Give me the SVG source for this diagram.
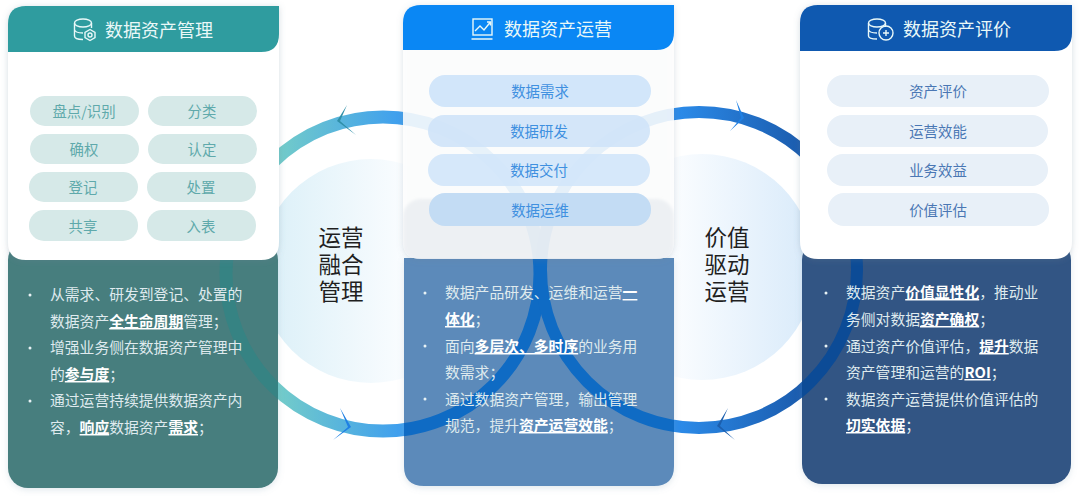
<svg xmlns="http://www.w3.org/2000/svg" width="1080" height="496" viewBox="0 0 1080 496">
<style>
text{font-family:"Noto Sans CJK SC","Liberation Sans",sans-serif}
.h{font-size:18px;fill:#e9f8f8;text-anchor:middle;dominant-baseline:central}
.p{font-size:14.4px;text-anchor:middle;dominant-baseline:central}
.t1{fill:#5fa9ab}.t2{fill:#3f90e0}.t3{fill:#4a77b4}
.b{font-size:14.8px;fill:#dfeaee}
.b tspan.s{font-weight:700;fill:#fff;text-decoration:underline}
text.big{font-family:"Liberation Sans","Noto Sans CJK SC",sans-serif;font-size:22.5px;fill:#1f1f1f;text-anchor:middle}
.ic{fill:none;stroke:#e9f8f8;stroke-width:1.4}
.dot{fill:#e8f2f5}
</style>
<defs>
<linearGradient id="gd1" gradientUnits="userSpaceOnUse" x1="270" y1="0" x2="410" y2="0"><stop offset="0" stop-color="#dcf0f8"/><stop offset="1" stop-color="#fbfdff"/></linearGradient>
<linearGradient id="gd2" gradientUnits="userSpaceOnUse" x1="670" y1="0" x2="815" y2="0"><stop offset="0" stop-color="#fbfdff"/><stop offset="1" stop-color="#d8eafa"/></linearGradient>
<linearGradient id="gr1" gradientUnits="userSpaceOnUse" x1="280" y1="0" x2="400" y2="0"><stop offset="0" stop-color="#72cbca"/><stop offset="1" stop-color="#3f9fee"/></linearGradient>
<linearGradient id="gr2" gradientUnits="userSpaceOnUse" x1="680" y1="0" x2="800" y2="0"><stop offset="0" stop-color="#2b8ae8"/><stop offset="1" stop-color="#1b5cae"/></linearGradient>
<filter id="sh" x="-10%" y="-10%" width="120%" height="120%"><feDropShadow dx="0" dy="1" stdDeviation="3" flood-color="#6a8090" flood-opacity="0.28"/></filter>
<filter id="sh2" x="-10%" y="-10%" width="120%" height="120%"><feDropShadow dx="0" dy="2" stdDeviation="3" flood-color="#7a9ab0" flood-opacity="0.22"/></filter>
<filter id="soft" x="-5%" y="-20%" width="110%" height="140%"><feGaussianBlur stdDeviation="1.500"/></filter>
<clipPath id="c1"><rect x="8" y="240" width="270" height="248" rx="20"/></clipPath>
<clipPath id="c2"><path d="M404 258H674V466Q674 486 654 486H424Q404 486 404 466Z"/></clipPath>
<clipPath id="c3"><rect x="802" y="240" width="269" height="244" rx="20"/></clipPath>
<clipPath id="c4"><path d="M403 23Q403 5 421 5H674V241Q674 259 656 259H421Q403 259 403 241Z"/></clipPath>
</defs>
<rect width="1080" height="496" fill="#fff"/>
<g id="discs">
<circle cx="371" cy="271" r="112" fill="url(#gd1)"/>
<circle cx="702" cy="267" r="113" fill="url(#gd2)"/>
</g>
<g id="connectors">
<circle cx="383" cy="274" r="157" fill="none" stroke="url(#gr1)" stroke-width="13"/>
<circle cx="699" cy="270" r="158" fill="none" stroke="url(#gr2)" stroke-width="12"/>
</g>
<g id="panel-left" filter="url(#sh2)"><rect x="8" y="240" width="270" height="248" rx="20" fill="#477e7e"/></g>
<g id="panel-center" filter="url(#sh2)"><path d="M404 258H674V466Q674 486 654 486H424Q404 486 404 466Z" fill="#5b8aba"/></g>
<g id="panel-right" filter="url(#sh2)"><rect x="802" y="240" width="269" height="244" rx="20" fill="#315584"/></g>
<g id="connector-overlays">
<g clip-path="url(#c1)"><circle cx="383" cy="274" r="157" fill="none" stroke="#368383" stroke-width="13"/></g>
<g clip-path="url(#c2)"><circle cx="383" cy="274" r="157" fill="none" stroke="#0f6bc4" stroke-width="13"/><circle cx="699" cy="270" r="158" fill="none" stroke="#0f6bc4" stroke-width="12"/></g>
<g clip-path="url(#c3)"><circle cx="699" cy="270" r="158" fill="none" stroke="#0c4b96" stroke-width="12"/></g>
</g>
<g id="arrowheads">
<polygon points="347,105 337,121 356,135 340,121" fill="#2f8fa8"/>
<polygon points="340,408 351,427 333,440 348,427" fill="#1f80e4"/>
<polygon points="736,100 744,118 730,131 741,118" fill="#1f80e4"/>
<polygon points="728,408 717,426 735,440 720,426" fill="#1c5fae"/>
</g>
<g id="label-left"><text class="big" x="341"><tspan x="341" y="246">运营</tspan><tspan x="341" dy="27">融合</tspan><tspan x="341" dy="27">管理</tspan></text></g>
<g id="label-right"><text class="big" x="727"><tspan x="727" y="246">价值</tspan><tspan x="727" dy="27">驱动</tspan><tspan x="727" dy="27">运营</tspan></text></g>

<g id="card-left">
<path d="M8 24Q8 6 26 6H279V242Q279 260 261 260H26Q8 260 8 242Z" fill="#fff" filter="url(#sh)"/>
<path d="M8 52V24Q8 6 26 6H279V34Q279 52 261 52Z" fill="#2f9c9f"/>
<g class="ic"><ellipse cx="83" cy="23" rx="8.5" ry="4"/><path d="M74.500 23V36Q74.500 39.500 83 39.500M74.500 29.500Q75 33 83 33M91.500 23V28"/><circle cx="90" cy="35" r="2"/><path d="M90 29.500L95 32.300V37.700L90 40.500L85 37.700V32.300Z"/></g>
<text class="h" x="159" y="28.500">数据资产管理</text>
<rect x="30" y="96" width="109" height="30" rx="15" fill="#d6e9e8"/><text class="p t1" x="84" y="110">盘点/识别</text>
<rect x="148" y="96" width="109" height="30" rx="15" fill="#d6e9e8"/><text class="p t1" x="202" y="110">分类</text>
<rect x="30" y="134" width="109" height="30" rx="15" fill="#d6e9e8"/><text class="p t1" x="84" y="148">确权</text>
<rect x="148" y="134" width="109" height="30" rx="15" fill="#d6e9e8"/><text class="p t1" x="202" y="148">认定</text>
<rect x="29" y="172" width="109" height="30" rx="15" fill="#d6e9e8"/><text class="p t1" x="83" y="186">登记</text>
<rect x="147" y="172" width="109" height="30" rx="15" fill="#d6e9e8"/><text class="p t1" x="201" y="186">处置</text>
<rect x="29" y="210" width="109" height="31" rx="15" fill="#d6e9e8"/><text class="p t1" x="83" y="225">共享</text>
<rect x="147" y="210" width="109" height="31" rx="15" fill="#d6e9e8"/><text class="p t1" x="201" y="225">入表</text>
<circle class="dot" cx="30" cy="295" r="1.500"/><circle class="dot" cx="30" cy="348" r="1.500"/><circle class="dot" cx="30" cy="401" r="1.500"/>
<text class="b" x="50" y="300">从需求、研发到登记、处置的</text>
<text class="b" x="50" y="327">数据资产<tspan class="s">全生命周期</tspan>管理；</text>
<text class="b" x="50" y="353">增强业务侧在数据资产管理中</text>
<text class="b" x="50" y="380">的<tspan class="s">参与度</tspan>；</text>
<text class="b" x="50" y="406">通过运营持续提供数据资产内</text>
<text class="b" x="50" y="433">容，<tspan class="s">响应</tspan>数据资产<tspan class="s">需求</tspan>；</text>
</g>

<g id="card-center">
<path d="M403 23Q403 5 421 5H674V241Q674 259 656 259H421Q403 259 403 241Z" fill="#fff" fill-opacity="0.86" filter="url(#sh)"/>
<g clip-path="url(#c4)"><rect x="403" y="199" width="271" height="70" rx="18" fill="#dfe6ec" fill-opacity="0.5" filter="url(#soft)"/></g>
<path d="M403 50V23Q403 5 421 5H674V32Q674 50 656 50Z" fill="#0a87f4"/>
<g class="ic"><rect x="473" y="19" width="19" height="16"/><path d="M471.500 39H492.500M475 31L480 26L484 30L490.500 22M487 22H490.500V25.500"/></g>
<text class="h" x="558" y="27.500">数据资产运营</text>
<rect x="429" y="75" width="222" height="32" rx="16" fill="#d2e6fa"/><text class="p t2" x="540" y="90">数据需求</text>
<rect x="428" y="115" width="222" height="32" rx="16" fill="#cfe3f8" fill-opacity="0.9"/><text class="p t2" x="539" y="130">数据研发</text>
<rect x="428" y="154" width="222" height="32" rx="16" fill="#d2e6fa" fill-opacity="0.9"/><text class="p t2" x="539" y="169">数据交付</text>
<rect x="429" y="193" width="222" height="33" rx="16" fill="#c3dcf4"/><text class="p t2" x="540" y="209">数据运维</text>
<circle class="dot" cx="425" cy="293" r="1.500"/><circle class="dot" cx="425" cy="346" r="1.500"/><circle class="dot" cx="425" cy="399" r="1.500"/>
<text class="b" x="445" y="298">数据产品研发、运维和运营<tspan class="s">一</tspan></text>
<text class="b" x="445" y="325"><tspan class="s">体化</tspan>；</text>
<text class="b" x="445" y="352">面向<tspan class="s">多层次、多时序</tspan>的业务用</text>
<text class="b" x="445" y="378">数需求；</text>
<text class="b" x="445" y="405">通过数据资产管理，输出管理</text>
<text class="b" x="445" y="431">规范，提升<tspan class="s">资产运营效能</tspan>；</text>
</g>

<g id="card-right">
<path d="M800 23Q800 5 818 5H1072V241Q1072 259 1054 259H818Q800 259 800 241Z" fill="#fff" filter="url(#sh)"/>
<path d="M800 51V23Q800 5 818 5H1072V33Q1072 51 1054 51Z" fill="#0f59b0"/>
<g class="ic"><ellipse cx="877" cy="23" rx="8.500" ry="4"/><path d="M868.500 23V36Q868.500 39 877 39M868.500 29.500Q869 33 877 33M885.500 23V27"/><circle cx="886" cy="33" r="7"/><path d="M883 33H889M886 30V36"/></g>
<text class="h" x="957" y="27.500">数据资产评价</text>
<rect x="827" y="75" width="222" height="32" rx="16" fill="#e8f0f8"/><text class="p t3" x="938" y="90">资产评价</text>
<rect x="827" y="115" width="221" height="32" rx="16" fill="#e8f0f8"/><text class="p t3" x="938" y="130">运营效能</text>
<rect x="827" y="154" width="221" height="32" rx="16" fill="#e8f0f8"/><text class="p t3" x="938" y="169">业务效益</text>
<rect x="828" y="193" width="221" height="33" rx="16" fill="#e8f0f8"/><text class="p t3" x="938" y="209">价值评估</text>
<circle class="dot" cx="826" cy="293" r="1.500"/><circle class="dot" cx="826" cy="346" r="1.500"/><circle class="dot" cx="826" cy="399" r="1.500"/>
<text class="b" x="846" y="298">数据资产<tspan class="s">价值显性化</tspan>，推动业</text>
<text class="b" x="846" y="325">务侧对数据<tspan class="s">资产确权</tspan>；</text>
<text class="b" x="846" y="352">通过资产价值评估，<tspan class="s">提升</tspan>数据</text>
<text class="b" x="846" y="378">资产管理和运营的<tspan class="s">ROI</tspan>；</text>
<text class="b" x="846" y="405">数据资产运营提供价值评估的</text>
<text class="b" x="846" y="431"><tspan class="s">切实依据</tspan>；</text>
</g>
</svg>
